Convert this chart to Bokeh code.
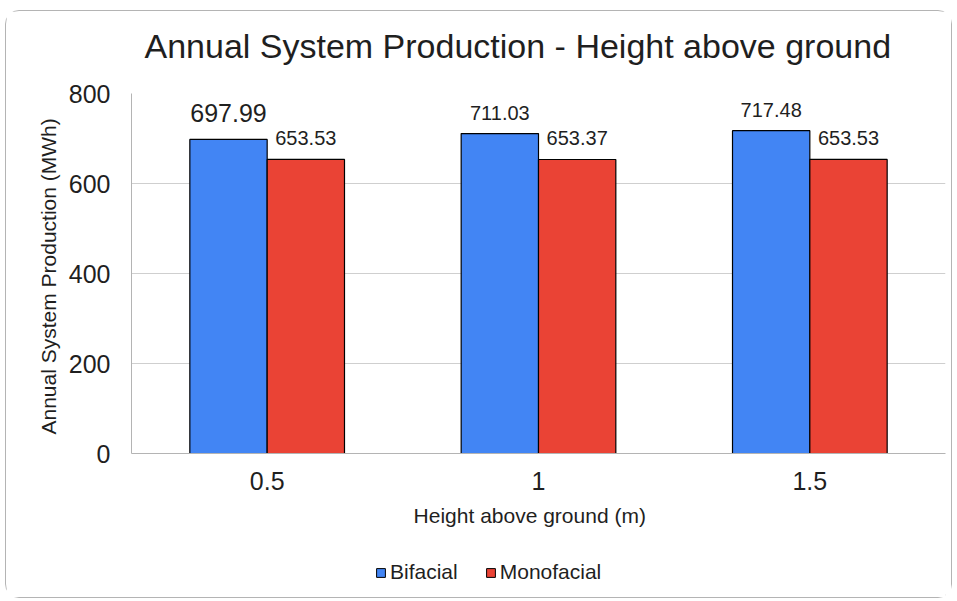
from bokeh.plotting import figure
from bokeh.layouts import column
from bokeh.models import (ColumnDataSource, FactorRange, Range1d, FixedTicker,
                          Legend, LegendItem)
from bokeh.transform import dodge
from bokeh.core.properties import value
from bokeh.embed import file_html
from bokeh.resources import INLINE

# Annual production (MWh) by mounting height above ground
heights = ["0.5", "1", "1.5"]
bifacial = [697.99, 711.03, 717.48]
monofacial = [653.53, 653.37, 653.53]
y_ticks = [0, 200, 400, 600, 800]

FONT = "Liberation Sans"
TXT = "#1f1f1f"
BLUE = "#4285F4"
RED = "#EA4335"

src = ColumnDataSource(dict(
    h=heights,
    bi=bifacial,
    mono=monofacial,
    bi_lbl=[f"{v:.2f}" for v in bifacial],
    mono_lbl=[f"{v:.2f}" for v in monofacial],
))

# heading strip (frames of the stacked figures are aligned by the column)
tf = figure(width=945, height=61, x_range=Range1d(0, 1), y_range=Range1d(0, 1),
            x_axis_location=None, y_axis_location=None,
            output_backend="svg", toolbar_location=None,
            min_border_left=125, min_border_right=6,
            min_border_top=58, min_border_bottom=0,
            outline_line_color=None)
tf.grid.visible = False
tf.title.text = "Annual System Production - Height above ground"
tf.title.align = "left"
tf.title.text_font = FONT
tf.title.text_font_size = "34px"
tf.title.text_font_style = "normal"
tf.title.text_color = TXT
tf.title.offset = 13
tf.title.standoff = 10

# main bar chart
p = figure(
    x_range=FactorRange(*heights, range_padding=0),
    y_range=Range1d(0, 800),
    width=945, height=469,
    output_backend="svg", toolbar_location=None,
    min_border_left=125, min_border_right=6,
    min_border_top=21, min_border_bottom=88,
)

bw = 0.285
p.vbar(x=dodge("h", -bw / 2, range=p.x_range), top="bi", width=bw,
       source=src, fill_color=BLUE, line_color="black", line_width=1.2)
p.vbar(x=dodge("h", bw / 2, range=p.x_range), top="mono", width=bw,
       source=src, fill_color=RED, line_color="black", line_width=1.2)

# value labels above each bar (first bifacial label is set larger)
big = dict(h=heights[:1], bi=bifacial[:1], bi_lbl=src.data["bi_lbl"][:1])
rest = dict(h=heights[1:], bi=bifacial[1:], bi_lbl=src.data["bi_lbl"][1:])
p.text(x=dodge("h", -bw / 2, range=p.x_range), y="bi", text="bi_lbl",
       source=ColumnDataSource(big),
       text_align="center", text_baseline="alphabetic", y_offset=-26,
       text_font=value(FONT), text_font_size="25px", text_color=TXT)
p.text(x=dodge("h", -bw / 2, range=p.x_range), y="bi", text="bi_lbl",
       source=ColumnDataSource(rest),
       text_align="center", text_baseline="alphabetic", y_offset=-21,
       text_font=value(FONT), text_font_size="20px", text_color=TXT)
p.text(x=dodge("h", bw / 2, range=p.x_range), y="mono", text="mono_lbl", source=src,
       text_align="center", text_baseline="alphabetic", y_offset=-21,
       text_font=value(FONT), text_font_size="20px", text_color=TXT)

# grid and axes
p.xgrid.grid_line_color = None
p.ygrid.grid_line_color = "#cfcfcf"
p.ygrid.ticker = FixedTicker(ticks=y_ticks)
p.outline_line_color = None

p.yaxis.ticker = FixedTicker(ticks=y_ticks)
p.yaxis.axis_label = "Annual System Production  (MWh)"
p.yaxis.axis_label_text_font = FONT
p.yaxis.axis_label_text_font_size = "21px"
p.yaxis.axis_label_text_font_style = "normal"
p.yaxis.axis_label_text_color = TXT
p.yaxis.axis_label_standoff = 6
p.yaxis.major_label_text_font = FONT
p.yaxis.major_label_text_font_size = "25px"
p.yaxis.major_label_text_color = TXT
p.yaxis.major_label_standoff = 15
p.yaxis.axis_line_color = "#b4b4b4"
p.yaxis.major_tick_line_color = None
p.yaxis.minor_tick_line_color = None

p.xaxis.axis_label = "Height  above  ground  (m)"
p.xaxis.axis_label_text_font = FONT
p.xaxis.axis_label_text_font_size = "21px"
p.xaxis.axis_label_text_font_style = "normal"
p.xaxis.axis_label_text_color = TXT
p.xaxis.axis_label_standoff = 11
p.xaxis.major_label_text_font = FONT
p.xaxis.major_label_text_font_size = "25px"
p.xaxis.major_label_text_color = TXT
p.xaxis.major_label_standoff = 12
p.xaxis.axis_line_color = "#b4b4b4"
p.xaxis.major_tick_line_color = None

# legend strip under the chart; key swatches sit outside the visible range
lf = figure(width=945, height=56, x_range=Range1d(0, 1), y_range=Range1d(0, 1),
            x_axis_location=None, y_axis_location=None,
            output_backend="svg", toolbar_location=None,
            min_border_left=125, min_border_right=6,
            min_border_top=8, min_border_bottom=0,
            outline_line_color=None)
lf.grid.visible = False
k_bi = lf.vbar(x=[-5], top=[-5], width=0.1, fill_color=BLUE, line_color="black")
k_mono = lf.vbar(x=[-5], top=[-5], width=0.1, fill_color=RED, line_color="black")
legend = Legend(
    items=[LegendItem(label="Bifacial", renderers=[k_bi]),
           LegendItem(label="Monofacial", renderers=[k_mono])],
    orientation="horizontal", location=(244, 13),
    label_text_font=FONT, label_text_font_size="21px", label_text_color=TXT,
    glyph_width=11, glyph_height=11, spacing=27, label_standoff=4,
    border_line_color=None, background_fill_alpha=0, margin=0, padding=0,
)
lf.add_layout(legend)

card = column(tf, p, lf, spacing=0, margin=(10, 5, 3, 5),
              styles={"border": "1px solid #b4b4b4", "border-radius": "14px"})

open("out.html", "w").write(file_html(card, INLINE))
